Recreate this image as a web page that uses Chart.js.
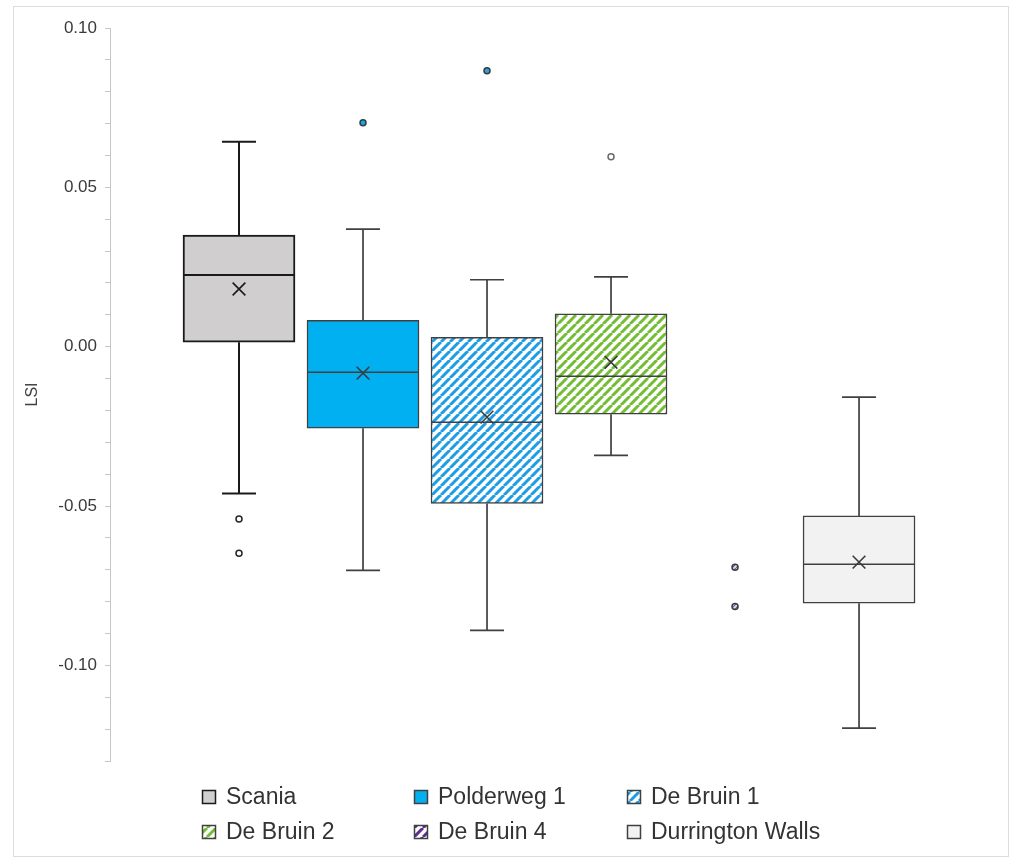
<!DOCTYPE html>
<html>
<head>
<meta charset="utf-8">
<script src="https://cdn.jsdelivr.net/npm/chart.js@4.4.1/dist/chart.umd.min.js"></script>
<style>
  html, body { margin: 0; padding: 0; background: #ffffff; }
  #wrap { position: relative; width: 1011px; height: 861px; }
  #frame { position: absolute; left: 13px; top: 6px; width: 996px; height: 851px;
           border: 1px solid #dcdcdc; box-sizing: border-box; }
  #c { position: absolute; left: 0; top: 0; }
</style>
</head>
<body>
<div id="wrap">
  <div id="frame"></div>
  <canvas id="c" width="1011" height="861"></canvas>
</div>
<script>
// ---- data: LSI distribution per site ----
const groups      = ['Scania', 'Polderweg 1', 'De Bruin 1', 'De Bruin 2', 'De Bruin 4', 'Durrington Walls'];
const whiskerLow  = [-0.0461, -0.0702, -0.0890, -0.0341, null, -0.1197];
const q1          = [ 0.0014, -0.0256, -0.0492, -0.0212, null, -0.0805];
const median      = [ 0.0225, -0.0080, -0.0237, -0.0093, null, -0.0683];
const q3          = [ 0.0350,  0.0083,  0.0029,  0.0103, null, -0.0531];
const whiskerHigh = [ 0.0643,  0.0369,  0.0210,  0.0219, null, -0.0158];
const means       = [ 0.0181, -0.0083, -0.0221, -0.0049, null, -0.0676];
const outliers    = [[-0.0541, -0.0648], [0.0703], [0.0866], [0.0596], [-0.0692, -0.0815], []];

// axis range and tick values
const yMin = -0.13, yMax = 0.10, yStep = 0.01, yLabelStep = 0.05;

// ---- styles ----
function hatch(color, bg, period, width) {
  const c = document.createElement('canvas');
  c.width = period; c.height = period;
  const g = c.getContext('2d');
  g.fillStyle = bg; g.fillRect(0, 0, period, period);
  g.strokeStyle = color; g.lineWidth = width;
  g.beginPath();
  for (const o of [-period, 0, period]) { g.moveTo(o, period); g.lineTo(o + period, 0); }
  g.stroke();
  return g.createPattern(c, 'repeat');
}
const blueHatch   = hatch('#1d9de4', '#ffffff', 9, 3);
const greenHatch  = hatch('#72bd33', '#ffffff', 9, 3);
const purpleHatch = hatch('#5a2d8f', '#ffffff', 9, 3);
const purpleFine  = hatch('#6d55a8', '#e6e1f3', 4, 1.2);

const boxFill     = ['#d0cece', '#00b0f0', blueHatch, greenHatch, purpleHatch, '#f2f2f2'];
const boxLine     = ['#1a1a1a', '#404040', '#404040', '#404040', '#404040', '#404040'];
const boxLineW    = [2, 1.5, 1.5, 1.5, 1.5, 1.5];
const outlierFill = ['#ffffff', '#00b0f0', '#2aa3e6', '#ffffff', purpleFine, '#ffffff'];
const outlierLine = ['#262626', '#3a3a3a', '#3a3a3a', '#6a6a6a', '#3a3a3a', '#3a3a3a'];

Chart.defaults.font.family = '"Liberation Sans", Arial, sans-serif';
Chart.defaults.color = '#404040';

// ---- datasets built from the arrays ----
const boxIdx = groups.map((g, i) => i).filter(i => q1[i] !== null);
const boxData = boxIdx.map(i => ({ x: i, y: [q1[i], q3[i]] }));
const meanIdx = groups.map((g, i) => i).filter(i => means[i] !== null);
const meanData = meanIdx.map(i => ({ x: i, y: means[i] }));
const outData = [], outBg = [], outBorder = [];
outliers.forEach((vals, i) => vals.forEach(v => {
  outData.push({ x: i, y: v });
  outBg.push(outlierFill[i]);
  outBorder.push(outlierLine[i]);
}));

// whiskers, caps and median lines drawn right after the boxes
const boxWhiskers = {
  id: 'boxWhiskers',
  afterDatasetDraw(chart, args) {
    if (args.meta.type !== 'bar') return;
    const xs = chart.scales.x, ys = chart.scales.y, ctx = chart.ctx;
    ctx.save();
    args.meta.data.forEach((bar, j) => {
      const i = boxIdx[j];
      const cx = xs.getPixelForValue(i);
      const half = bar.width / 2;
      const capHalf = 17;
      ctx.strokeStyle = boxLine[i];
      ctx.lineWidth = i === 0 ? 2 : 1.7;
      ctx.beginPath();
      // upper whisker
      ctx.moveTo(cx, ys.getPixelForValue(q3[i]));
      ctx.lineTo(cx, ys.getPixelForValue(whiskerHigh[i]));
      ctx.moveTo(cx - capHalf, ys.getPixelForValue(whiskerHigh[i]));
      ctx.lineTo(cx + capHalf, ys.getPixelForValue(whiskerHigh[i]));
      // lower whisker
      ctx.moveTo(cx, ys.getPixelForValue(q1[i]));
      ctx.lineTo(cx, ys.getPixelForValue(whiskerLow[i]));
      ctx.moveTo(cx - capHalf, ys.getPixelForValue(whiskerLow[i]));
      ctx.lineTo(cx + capHalf, ys.getPixelForValue(whiskerLow[i]));
      ctx.stroke();
      // median
      ctx.lineWidth = boxLineW[i];
      ctx.beginPath();
      const my = ys.getPixelForValue(median[i]);
      ctx.moveTo(cx - half, my);
      ctx.lineTo(cx + half, my);
      ctx.stroke();
    });
    ctx.restore();
  }
};

// two-row, three-column legend under the plot
const gridLegend = {
  id: 'gridLegend',
  afterDraw(chart) {
    const ctx = chart.ctx;
    const colX = [202, 414, 627];
    const rowY = [797, 832];
    const sw = 14;
    ctx.save();
    ctx.font = '23px "Liberation Sans", Arial, sans-serif';
    ctx.textBaseline = 'middle';
    ctx.textAlign = 'left';
    groups.forEach((name, i) => {
      const x = colX[i % 3], y = rowY[Math.floor(i / 3)];
      ctx.fillStyle = boxFill[i];
      ctx.fillRect(x, y - sw / 2, sw, sw);
      ctx.strokeStyle = i === 0 ? '#1a1a1a' : '#404040';
      ctx.lineWidth = 1.5;
      ctx.strokeRect(x + 0.5, y - sw / 2 + 0.5, sw - 1, sw - 1);
      ctx.fillStyle = '#333333';
      ctx.fillText(name, x + 24, y + 1);
    });
    ctx.restore();
  }
};

new Chart(document.getElementById('c'), {
  type: 'bar',
  data: {
    datasets: [
      {
        type: 'scatter',
        label: 'Mean',
        data: meanData,
        order: 0,
        pointStyle: 'crossRot',
        pointRadius: 9,
        pointBorderWidth: 1.6,
        pointBorderColor: meanIdx.map(i => i === 0 ? '#1a1a1a' : '#3a3a3a'),
        pointBackgroundColor: 'rgba(0,0,0,0)'
      },
      {
        type: 'scatter',
        label: 'Outliers',
        data: outData,
        order: 1,
        pointStyle: 'circle',
        pointRadius: 3,
        pointBorderWidth: 1.5,
        pointBackgroundColor: outBg,
        pointBorderColor: outBorder
      },
      {
        type: 'bar',
        label: 'Box',
        data: boxData,
        order: 2,
        barThickness: 112,
        backgroundColor: boxIdx.map(i => boxFill[i]),
        borderColor: boxIdx.map(i => boxLine[i]),
        borderWidth: boxIdx.map(i => boxLineW[i]),
        borderSkipped: false
      }
    ]
  },
  options: {
    responsive: false,
    animation: false,
    layout: { padding: { left: 20, top: 28, right: 22, bottom: 100 } },
    plugins: { legend: { display: false }, tooltip: { enabled: false } },
    scales: {
      x: {
        type: 'linear',
        display: false,
        offset: false,
        min: -1.0403,
        max: 6.048
      },
      y: {
        type: 'linear',
        min: yMin,
        max: yMax,
        afterFit(scale) { scale.width = 90; },
        border: { display: true, color: '#c6c6c6', width: 1 },
        grid: { drawOnChartArea: false, drawTicks: true, tickLength: 5, color: '#c6c6c6' },
        ticks: {
          stepSize: yStep,
          padding: 8,
          autoSkip: false,
          color: '#3a3a3a',
          font: { size: 17 },
          callback(v) {
            const k = Math.round(v / yStep);
            return k % Math.round(yLabelStep / yStep) === 0 ? (k * yStep).toFixed(2) : '';
          }
        },
        title: {
          display: true,
          text: 'LSI',
          color: '#404040',
          font: { size: 16 },
          padding: { top: 3, bottom: 0 }
        }
      }
    }
  },
  plugins: [boxWhiskers, gridLegend]
});
</script>
</body>
</html>
